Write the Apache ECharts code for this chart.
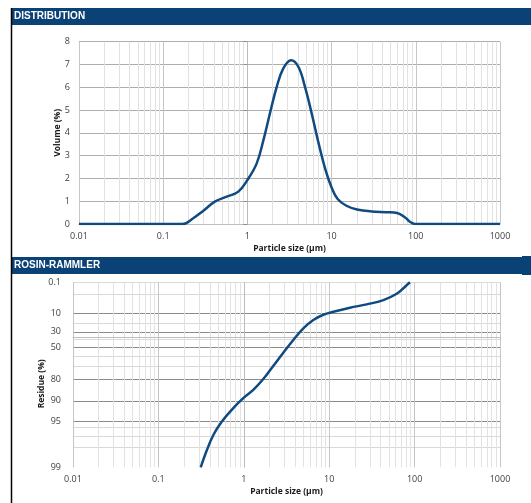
<!DOCTYPE html>
<html>
<head>
<meta charset="utf-8">
<script src="https://cdn.jsdelivr.net/npm/echarts@6/dist/echarts.min.js"></script>
<style>
html,body{margin:0;padding:0;background:#fff;}
#chart{width:531px;height:503px;}
</style>
</head>
<body>
<div id="chart"></div>
<script>
// ---- Data ----
const xTickLabels = ['0.01', '0.1', '1', '10', '100', '1000'];
const volumeTickLabels = ['0', '1', '2', '3', '4', '5', '6', '7', '8'];
const residueTickLabels = [0.1, 10, 30, 50, 80, 90, 95, 99];
const residueMinorLines = [1, 20, 40, 60, 70, 96, 97, 98];

const distSizes = [0.01, 0.17, 0.227, 0.30, 0.41, 0.57, 0.78, 1.0, 1.29, 1.55, 1.85, 2.23, 2.67, 3.3, 4.03, 4.83, 5.8, 7.0, 8.5, 10.0, 11.8, 15.0, 20.0, 30.0, 45.0, 60.0, 74.0, 85.0, 98.0, 1000];
const distVolume = [0, 0, 0.25, 0.58, 0.98, 1.2, 1.42, 1.93, 2.66, 3.68, 4.85, 6.02, 6.83, 7.19, 6.9, 6.02, 4.85, 3.55, 2.35, 1.6, 1.1, 0.8, 0.64, 0.55, 0.52, 0.48, 0.3, 0.1, 0, 0];

const rrSizes = [0.313, 0.368, 0.44, 0.551, 0.753, 0.986, 1.29, 1.69, 2.21, 2.90, 3.80, 4.98, 6.52, 8.53, 11.2, 17.5, 27.5, 43.1, 61.7, 77.2, 88.3];
const rrResidue = [99, 98.2, 96.9, 95.1, 92.2, 89.1, 85.7, 79.7, 69.8, 56.3, 40.6, 25.6, 16.1, 11.1, 8.7, 6.0, 4.2, 2.5, 1.0, 0.27, 0.1];

// ---- Scale helpers ----
const rr = r => Math.log(Math.log(100 / r));          // Rosin-Rammler ordinate
const lg = v => Math.log10(v);
const minorLogs = [];
for (let d = -2; d < 3; d++) for (let k = 2; k <= 9; k++) minorLogs.push(d + Math.log10(k));
const zMin = rr(99), zMax = rr(0.1);
const labelFmtRR = v => {
  let best = residueTickLabels[0], bd = 1e9;
  residueTickLabels.forEach(r => { const d = Math.abs(rr(r) - v); if (d < bd) { bd = d; best = r; } });
  return String(best);
};

const FONT = 'Open Sans';
const labelStyle = { fontFamily: FONT, fontSize: 9, color: '#404040' };
const nameStyle = { fontFamily: FONT, fontSize: 8.5, fontWeight: 'bold', color: '#1a1a1a' };
const lineColor = '#0f4a80';
const minorColor = '#e2e2e2', decadeColor = '#c6c6c6';

const chart = echarts.init(document.getElementById('chart'), null, { renderer: 'canvas' });
const minorX = gi => ({
  type: 'value', gridIndex: gi, position: 'bottom', min: -2, max: 3,
  axisLine: { show: false }, axisLabel: { show: false },
  axisTick: { show: false, customValues: minorLogs },
  splitLine: { show: true, lineStyle: { color: minorColor, width: 1 } }
});
const majorX = (gi, gap) => ({
  type: 'value', gridIndex: gi, position: 'bottom', min: -2, max: 3, interval: 1,
  name: 'Particle size (µm)', nameLocation: 'middle', nameGap: gap, nameTextStyle: nameStyle,
  axisLine: { show: true, lineStyle: { color: '#bdbdbd' } },
  axisTick: { show: false },
  axisLabel: Object.assign({ margin: 8, formatter: v => xTickLabels[Math.round(v) + 2] }, labelStyle),
  splitLine: { show: true, lineStyle: { color: decadeColor, width: 1 } }
});

chart.setOption({
  animation: false,
  backgroundColor: '#fff',
  grid: [
    { left: 79, top: 41.7, width: 421, height: 182.3, outerBoundsMode: 'none', containLabel: false },
    { left: 73, top: 282.3, width: 427, height: 185, outerBoundsMode: 'none', containLabel: false }
  ],
  xAxis: [minorX(0), majorX(0, 20), minorX(1), majorX(1, 20)],
  yAxis: [
    {
      type: 'value', gridIndex: 0, position: 'left', min: 0, max: 8, interval: 1,
      name: 'Volume (%)', nameLocation: 'middle', nameGap: 17, nameMoveOverlap: false, nameTextStyle: nameStyle,
      axisLine: { show: true, lineStyle: { color: '#bdbdbd' } },
      axisTick: { show: true, length: 4, lineStyle: { color: '#8c8c8c' } },
      axisLabel: Object.assign({ margin: 9, formatter: v => volumeTickLabels[v] }, labelStyle),
      splitLine: { show: true, lineStyle: { color: '#adadad', width: 1 } }
    },
    {
      type: 'value', gridIndex: 1, position: 'left', min: zMin, max: zMax,
      axisLine: { show: false }, axisLabel: { show: false },
      axisTick: { show: false, customValues: residueMinorLines.map(rr).concat([zMax]) },
      splitLine: { show: true, lineStyle: { color: '#d9d9d9', width: 1 } }
    },
    {
      type: 'value', gridIndex: 1, position: 'left', min: zMin, max: zMax,
      name: 'Residue (%)', nameLocation: 'middle', nameGap: 27, nameMoveOverlap: false,
      nameTextStyle: Object.assign({ padding: [0, 18, 0, 0] }, nameStyle),
      axisLine: { show: true, lineStyle: { color: '#bdbdbd' } },
      axisTick: { show: false, customValues: [10, 30, 50, 80, 90, 95].map(rr) },
      axisLabel: Object.assign({ margin: 12, customValues: residueTickLabels.map(rr), formatter: labelFmtRR }, labelStyle),
      splitLine: { show: true, lineStyle: { color: '#8a8a8a', width: 1 } }
    }
  ],
  series: [
    {
      type: 'line', xAxisIndex: 1, yAxisIndex: 0, smooth: 0.4, symbol: 'none',
      lineStyle: { color: lineColor, width: 2.5 },
      data: distSizes.map((s, i) => [lg(s), distVolume[i]])
    },
    {
      type: 'line', xAxisIndex: 3, yAxisIndex: 2, smooth: 0.4, symbol: 'none',
      lineStyle: { color: lineColor, width: 2.5 },
      data: rrSizes.map((s, i) => [lg(s), rr(rrResidue[i])])
    }
  ],
  graphic: [
    { type: 'rect', shape: { x: 12, y: 8, width: 519, height: 17 }, style: { fill: '#0b4275' } },
    { type: 'text', x: 14, y: 16.5, style: { text: 'DISTRIBUTION', fill: '#fff', font: 'bold 10px "Liberation Sans", Arial, sans-serif', verticalAlign: 'middle' } },
    { type: 'rect', shape: { x: 12, y: 257, width: 519, height: 17 }, style: { fill: '#0b4275' } },
    { type: 'rect', shape: { x: 522, y: 256, width: 9, height: 19 }, style: { fill: '#0b4275' } },
    { type: 'text', x: 14, y: 265.5, style: { text: 'ROSIN-RAMMLER', fill: '#fff', font: 'bold 10px "Liberation Sans", Arial, sans-serif', verticalAlign: 'middle' } },
    { type: 'line', shape: { x1: 11.5, y1: 8, x2: 11.5, y2: 503 }, style: { stroke: '#000', lineWidth: 1.5 } }
  ]
});
</script>
</body>
</html>
